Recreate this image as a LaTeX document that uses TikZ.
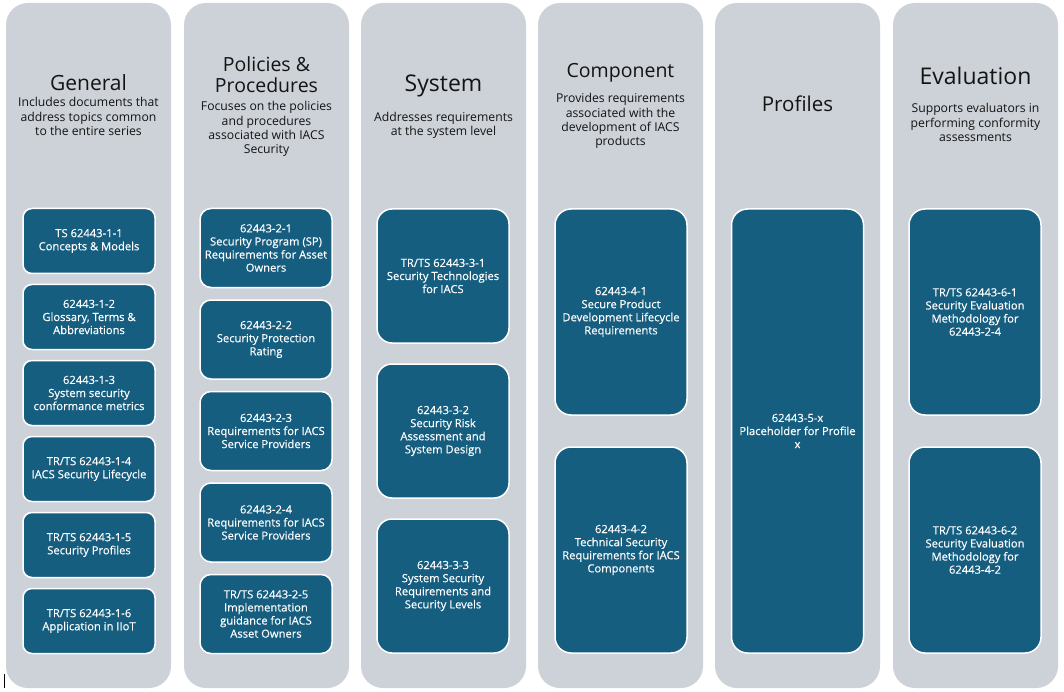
\documentclass[tikz,border=0pt]{standalone}
\usepackage{fontspec}
\setmainfont{Open Sans}
\newfontfamily\boxfont[FakeBold=0.35]{Open Sans}
\definecolor{colgrey}{RGB}{205,209,216}
\definecolor{boxblue}{RGB}{22,94,128}
\definecolor{ink}{RGB}{20,20,20}
\begin{document}
\begin{tikzpicture}[x=1pt,y=-1pt,
  column/.style={fill=colgrey, draw=none, rounded corners=22pt, minimum width=165pt, minimum height=685pt, inner sep=0pt},
  doc/.style={fill=boxblue, draw=white, line width=1.5pt, text=white, align=center, minimum width=132pt, inner sep=2pt, font=\boxfont\fontsize{11.2}{13.1}\selectfont},
  smallbox/.style={doc, minimum height=65pt, rounded corners=9pt},
  midbox/.style={doc, minimum height=79pt, rounded corners=11pt},
  tallbox/.style={doc, minimum height=134pt, rounded corners=15pt},
  bigbox/.style={doc, minimum height=206pt, rounded corners=16pt},
  title/.style={anchor=base, align=center, inner sep=0pt, text=ink},
  desc/.style={anchor=base, align=center, inner sep=0pt, text=ink, font=\fontsize{12.2}{14.2}\selectfont},
]
\useasboundingbox (0,0) rectangle (1064,692);
\fill[white] (0,0) rectangle (1064,692);

% columns
\node[column] (c1) at (88.5,345.5) {};
\node[column] (c2) at (266.5,345.5) {};
\node[column] (c3) at (443.5,345.5) {};
\node[column] (c4) at (620.5,345.5) {};
\node[column] (c5) at (797.5,345.5) {};
\node[column] (c6) at (975.5,345.5) {};

% titles (anchor = baseline of last line)
\node[title, font=\fontsize{21}{25}\selectfont] (t1) at (88.5,91) {General};
\node[title, font=\fontsize{19.5}{21}\selectfont] (t2) at (266.5,93) {Policies \&\\Procedures};
\node[title, font=\fontsize{23}{27}\selectfont] (t3) at (443.5,92) {System};
\node[title, font=\fontsize{19.5}{23}\selectfont] (t4) at (620.5,78) {Component};
\node[title, font=\fontsize{20.5}{24}\selectfont] (t5) at (797.5,112) {Profiles};
\node[title, font=\fontsize{23}{27}\selectfont] (t6) at (975.5,85) {Evaluation};

% descriptions (anchor = baseline of last line)
\node[desc] (d1) at (88.5,135.4) {Includes documents that\\address topics common\\to the entire series};
\node[desc] (d2) at (266.5,153.6) {Focuses on the policies\\and procedures\\associated with IACS\\Security};
\node[desc] (d3) at (443.5,135.7) {Addresses requirements\\at the system level};
\node[desc] (d4) at (620.5,145.6) {Provides requirements\\associated with the\\development of IACS\\products};
\node[desc] (d6) at (975.5,141.4) {Supports evaluators in\\performing conformity\\assessments};

% General
\node[smallbox] (g1) at (89,241) {TS 62443-1-1\\Concepts \& Models};
\node[smallbox] (g2) at (89,317) {62443-1-2\\Glossary, Terms \&\\Abbreviations};
\node[smallbox] (g3) at (89,393) {62443-1-3\\System security\\conformance metrics};
\node[smallbox] (g4) at (89,469) {TR/TS 62443-1-4\\IACS Security Lifecycle};
\node[smallbox] (g5) at (89,545) {TR/TS 62443-1-5\\Security Profiles};
\node[smallbox] (g6) at (89,621) {TR/TS 62443-1-6\\Application in IIoT};

% Policies & Procedures
\node[midbox] (p1) at (266,248) {62443-2-1\\Security Program (SP)\\Requirements for Asset\\Owners};
\node[midbox] (p2) at (266,339.5) {62443-2-2\\Security Protection\\Rating};
\node[midbox] (p3) at (266,431) {62443-2-3\\Requirements for IACS\\Service Providers};
\node[midbox] (p4) at (266,522.5) {62443-2-4\\Requirements for IACS\\Service Providers};
\node[midbox] (p5) at (266,614) {TR/TS 62443-2-5\\Implementation\\guidance for IACS\\Asset Owners};

% System
\node[tallbox] (s1) at (443,276) {TR/TS 62443-3-1\\Security Technologies\\for IACS};
\node[tallbox] (s2) at (443,431) {62443-3-2\\Security Risk\\Assessment and\\System Design};
\node[tallbox] (s3) at (443,586) {62443-3-3\\System Security\\Requirements and\\Security Levels};

% Component
\node[bigbox] (k1) at (621,312) {62443-4-1\\Secure Product\\Development Lifecycle\\Requirements};
\node[bigbox] (k2) at (621,550) {62443-4-2\\Technical Security\\Requirements for IACS\\Components};

% Profiles
\node[doc, minimum height=444pt, rounded corners=16pt] (f1) at (797.5,431) {62443-5-x\\Placeholder for Profile\\x};

% Evaluation
\node[bigbox] (e1) at (975,312) {TR/TS 62443-6-1\\Security Evaluation\\Methodology for\\62443-2-4};
\node[bigbox] (e2) at (975,550) {TR/TS 62443-6-2\\Security Evaluation\\Methodology for\\62443-4-2};

% cursor mark
\draw[black, line width=0.8pt] (4.5,674) -- (4.5,688);
\end{tikzpicture}
\end{document}
